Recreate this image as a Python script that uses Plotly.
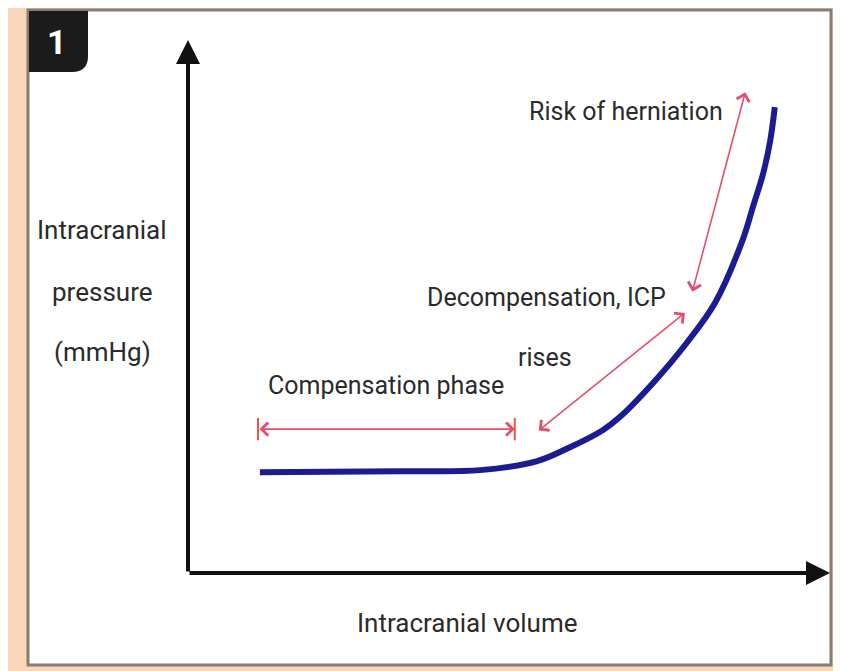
import plotly.graph_objects as go

# ---- data (arbitrary units) ----
volume = [1.12, 3.30, 4.55, 5.44, 5.95, 6.46, 6.73, 7.24, 7.77, 8.21, 8.64, 8.80, 8.96, 9.07, 9.14]
pressure = [1.89, 1.91, 1.93, 2.10, 2.36, 2.68, 2.93, 3.56, 4.32, 5.07, 6.25, 6.87, 7.50, 8.12, 8.74]

# phase annotations: (x_start, y_start, x_end, y_end)
phase_arrows = {
    "compensation": (1.09, 2.70, 5.09, 2.70),
    "decompensation": (5.44, 2.65, 7.74, 4.88),
    "herniation": (7.85, 5.25, 8.68, 9.02),
}
phase_labels = ["Compensation phase", "Decompensation, ICP", "rises", "Risk of herniation"]
label_x = [3.08, 5.59, 5.56, 6.82]
label_y = [3.51, 5.16, 4.05, 8.65]

x_title = "Intracranial volume"
y_title_lines = ["Intracranial", "pressure", "(mmHg)"]
panel_number = "1"

W, H = 841, 671
OFF = 8  # default page body margin
FONT = "Roboto, sans-serif"
TXT = "#2b2b2b"
RED = "#e4506c"
BLUE = "#1c1c92"


def px(x):
    return (x - OFF) / W


def py(y):
    return (H - (y - OFF)) / H


fig = go.Figure()

fig.add_trace(go.Scatter(
    x=volume, y=pressure, mode="lines",
    line=dict(color=BLUE, width=6, shape="spline", smoothing=1.0),
    hoverinfo="skip", showlegend=False,
))

# bar ends of compensation arrow
c = phase_arrows["compensation"]
fig.add_trace(go.Scatter(
    x=[c[0], c[2]], y=[c[1], c[3]], mode="markers",
    marker=dict(symbol="line-ns-open", size=16, line=dict(color=RED, width=2)),
    hoverinfo="skip", showlegend=False,
))

annotations = []
# axes with arrowheads
for (xe, ye) in [(10, 0), (0, 10)]:
    annotations.append(dict(x=xe, y=ye, ax=0, ay=0, xref="x", yref="y", axref="x", ayref="y",
                            text="", showarrow=True, arrowhead=2, arrowsize=1.2, arrowwidth=4,
                            arrowcolor="#111111", standoff=0, startstandoff=0))

for key, (x0, y0, x1, y1) in phase_arrows.items():
    annotations.append(dict(x=x1, y=y1, ax=x0, ay=y0, xref="x", yref="y", axref="x", ayref="y",
                            text="", showarrow=True, arrowhead=4, startarrowhead=4,
                            arrowside="end+start", arrowsize=1.6, startarrowsize=1.6,
                            arrowwidth=1.6, arrowcolor=RED, standoff=0, startstandoff=0))

for t, lx, ly in zip(phase_labels, label_x, label_y):
    annotations.append(dict(x=lx, y=ly, xref="x", yref="y", text=t, showarrow=False,
                            xanchor="center", yanchor="middle",
                            font=dict(family=FONT, size=25, color=TXT)))

# axis titles
annotations.append(dict(x=px(467), y=py(623), xref="paper", yref="paper", text=x_title,
                        xanchor="center", yanchor="middle",
                        showarrow=False, font=dict(family=FONT, size=26, color=TXT)))
for t, yy in zip(y_title_lines, [230, 292, 352]):
    annotations.append(dict(x=px(102), y=py(yy), xref="paper", yref="paper", text=t,
                            xanchor="center", yanchor="middle",
                            showarrow=False, font=dict(family=FONT, size=26, color=TXT)))

# panel number
annotations.append(dict(x=px(57), y=py(42), xref="paper", yref="paper",
                        text="<b>" + panel_number + "</b>", xanchor="center", yanchor="middle",
                        showarrow=False, font=dict(family=FONT, size=34, color="white")))

shapes = [
    dict(type="rect", xref="paper", yref="paper", x0=px(28), x1=px(831), y0=py(665), y1=py(10),
         fillcolor="white", line=dict(color="#8c7b70", width=3), layer="below"),
]
# black number box with rounded bottom-right corner
x0, x1 = px(29), px(88)
y0, y1 = py(11), py(72)
rx, ry = 16 / W, 16 / H
path = (f"M{x0},{y0} L{x1},{y0} L{x1},{y1 + ry} Q{x1},{y1} {x1 - rx},{y1} "
        f"L{x0},{y1} Z")
shapes.append(dict(type="path", xref="paper", yref="paper", path=path,
                   fillcolor="#1b1b1b", line=dict(width=0), layer="below"))

fig.update_layout(
    width=W, height=H,
    margin=dict(l=0, r=0, t=0, b=0),
    paper_bgcolor="#f8d6b8",
    plot_bgcolor="rgba(0,0,0,0)",
    xaxis=dict(domain=[px(188), px(830)], range=[0, 10], visible=False, fixedrange=True),
    yaxis=dict(domain=[py(573), py(40)], range=[0, 10], visible=False, fixedrange=True),
    annotations=annotations,
    shapes=shapes,
    showlegend=False,
)

fig.write_html("out.html")
